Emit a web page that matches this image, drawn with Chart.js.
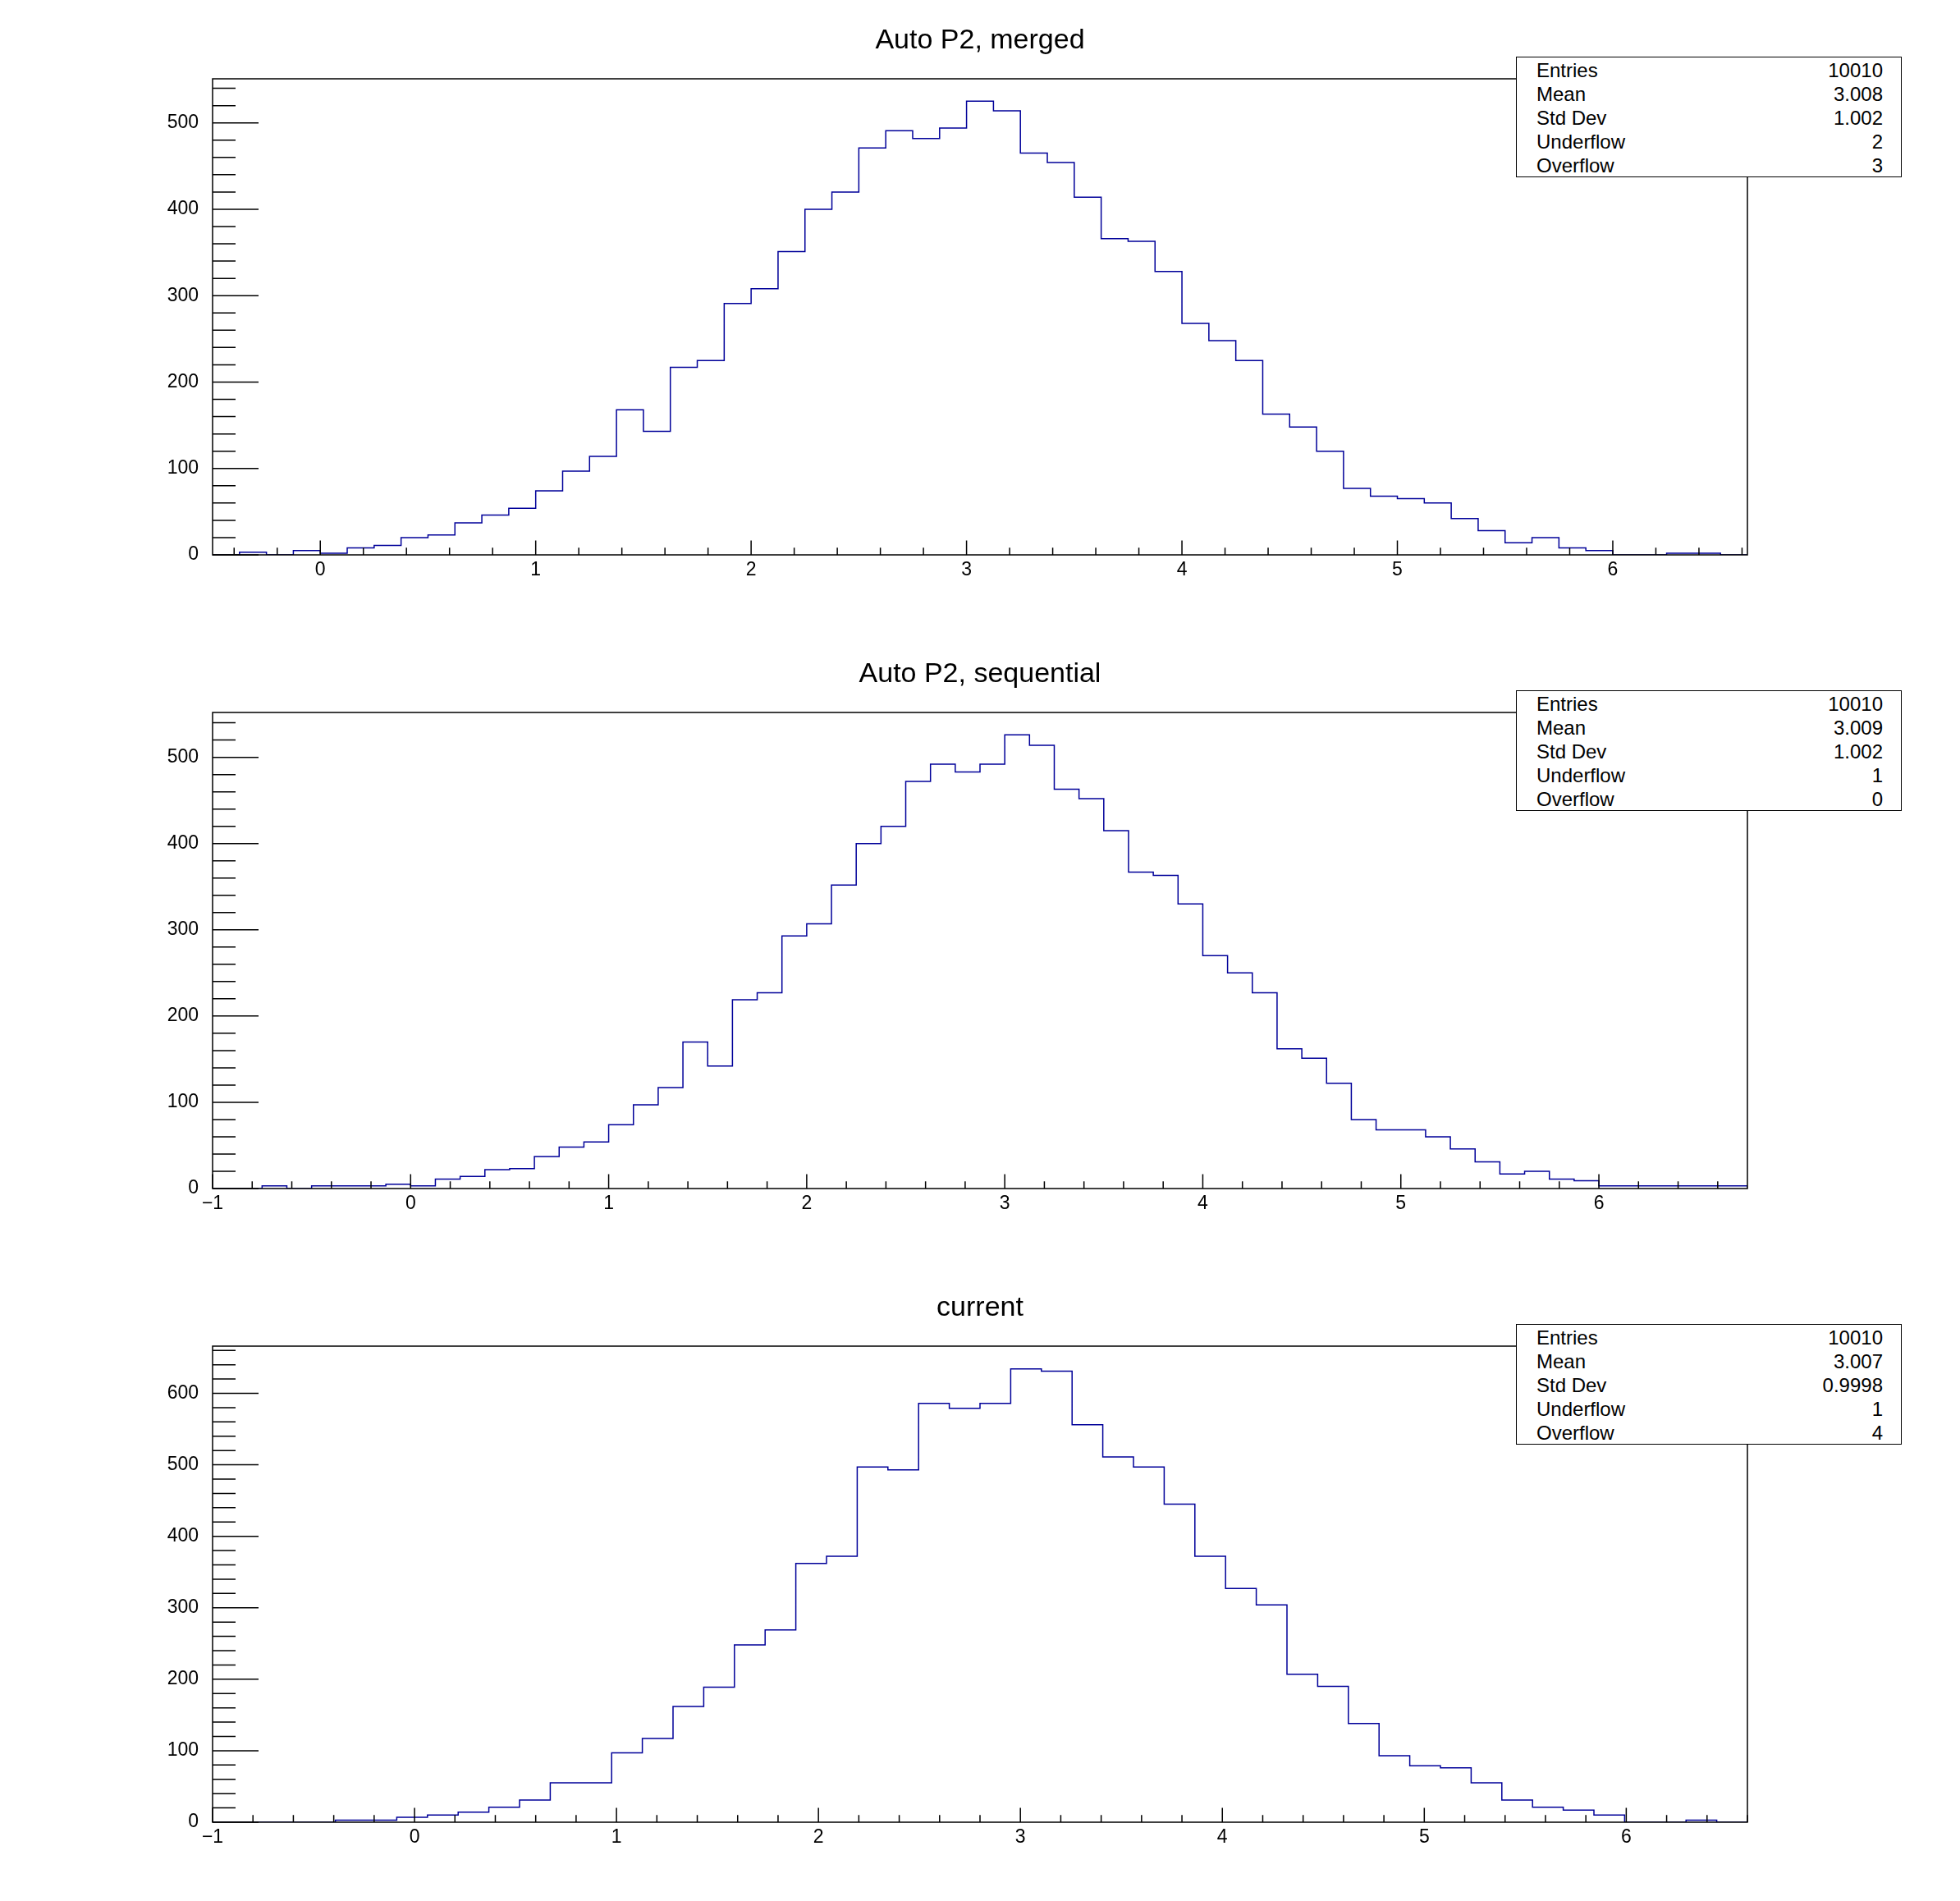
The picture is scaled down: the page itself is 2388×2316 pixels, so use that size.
<!DOCTYPE html>
<html>
<head>
<meta charset="utf-8">
<script src="https://cdn.jsdelivr.net/npm/chart.js@4.4.1/dist/chart.umd.min.js"></script>
<style>
  html, body { margin: 0; padding: 0; background: #fff; width: 2388px; height: 2316px; overflow: hidden; }
  .pad { position: absolute; left: 0; width: 2388px; height: 772px; }
  .pad canvas { position: absolute; left: 0; top: 0; }
  .title { position: absolute; left: 0; width: 2388px; top: 30px; text-align: center;
           font: 34px/34px "Liberation Sans", Arial, sans-serif; color: #000; }
  .stats { position: absolute; left: 1847px; top: 69px; width: 468px; height: 145px;
           border: 1.5px solid #000; background: #fff;
           font: 24px/24px "Liberation Sans", Arial, sans-serif; color: #000; }
  .stats .row { position: absolute; left: 24px; right: 22px; height: 24px; }
  .stats .val { position: absolute; right: 0; top: 0; }
</style>
</head>
<body>
<div id="page"></div>
<script>
// ---- data ----
const titles = ['Auto P2, merged', 'Auto P2, sequential', 'current'];

// panel 1: 57 bins of 0.125 from -0.5
const mergedRange = [-0.5, 6.625];
const mergedBinWidth = 0.125;
const mergedCounts = [
  0, 3, 0, 5, 2, 8, 11, 20, 23, 37, 46, 54,
  74, 97, 114, 168, 143, 217, 225, 291,
  308, 351, 400, 420, 471, 491, 482, 494,
  525, 514, 465, 454, 414, 366, 363, 328,
  268, 248, 225, 163, 148, 120, 77, 68,
  65, 60, 42, 28, 14, 20, 8, 5,
  0, 0, 2, 2, 0
];

// panel 2: 62 bins of 0.125 from -1
const seqRange = [-1, 6.75];
const seqBinWidth = 0.125;
const seqCounts = [
  0, 0, 3, 0, 3, 3, 3, 5,
  3, 11, 14, 22, 23, 37, 48, 54,
  74, 97, 117, 170, 142, 219, 227, 293,
  307, 352, 400, 420, 472, 492, 483, 492,
  526, 514, 463, 452, 415, 367, 363, 330,
  270, 250, 227, 162, 151, 122, 80, 68,
  68, 60, 46, 31, 17, 20, 11, 9,
  3, 3, 3, 3, 3, 3
];

// panel 3: 50 bins of 0.152 from -1
const curRange = [-1, 6.6];
const curBinWidth = 0.152;
const curCounts = [
  0, 0, 0, 0, 3, 3, 7, 10, 14, 21,
  31, 55, 55, 97, 117, 162, 189, 248, 269, 362,
  372, 497, 493, 586, 579, 586, 634, 631, 556, 511,
  497, 445, 372, 327, 304, 207, 190, 138, 93, 79,
  76, 55, 31, 21, 17, 10, 0, 0, 3, 0
];

const yMaxes = [551, 552, 666];

const statLabels = ['Entries', 'Mean', 'Std Dev', 'Underflow', 'Overflow'];
const mergedStats = ['10010', '3.008', '1.002', '2', '3'];
const seqStats = ['10010', '3.009', '1.002', '1', '0'];
const curStats = ['10010', '3.007', '0.9998', '1', '4'];

const FONT = '"Liberation Sans", Arial, sans-serif';
const LINE_COLOR = '#000099';

// ROOT-like frame with ticks pointing into the plot
const rootFrame = {
    id: 'rootFrame',
    afterDraw(chart, args, opts) {
        const ctx = chart.ctx;
        const a = chart.chartArea;
        const x = chart.scales.x, y = chart.scales.y;
        ctx.save();
        ctx.strokeStyle = '#000';
        ctx.lineWidth = 1.5;
        ctx.strokeRect(a.left, a.top, a.right - a.left, a.bottom - a.top);

        ctx.beginPath();
        // x axis
        x.ticks.forEach(t => {
            const px = x.getPixelForValue(t.value);
            ctx.moveTo(px, a.bottom);
            ctx.lineTo(px, a.bottom - 17.4);
        });
        for (let k = Math.ceil(x.min / opts.xMinor - 1e-9); k * opts.xMinor <= x.max + 1e-9; k++) {
            const px = x.getPixelForValue(k * opts.xMinor);
            ctx.moveTo(px, a.bottom);
            ctx.lineTo(px, a.bottom - 8.7);
        }
        // y axis
        y.ticks.forEach(t => {
            const py = y.getPixelForValue(t.value);
            ctx.moveTo(a.left, py);
            ctx.lineTo(a.left + 56, py);
        });
        for (let k = 0; k * opts.yMinor <= y.max + 1e-9; k++) {
            const py = y.getPixelForValue(k * opts.yMinor);
            ctx.moveTo(a.left, py);
            ctx.lineTo(a.left + 28, py);
        }
        ctx.stroke();
        ctx.restore();
    }
};

function histPoints(range, width, counts) {
    const pts = [{ x: range[0], y: 0 }];
    counts.forEach((c, i) => pts.push({ x: range[0] + i * width, y: c }));
    pts.push({ x: range[1], y: 0 });
    return pts;
}

function minusLabel(value) {
    return value < 0 ? '\u2212' + Math.abs(value) : String(value);
}

function makePad(idx, range, width, counts, stats) {
    const pad = document.createElement('div');
    pad.className = 'pad';
    pad.style.top = (idx * 772) + 'px';

    const canvas = document.createElement('canvas');
    canvas.width = 2388;
    canvas.height = 772;
    pad.appendChild(canvas);

    const title = document.createElement('div');
    title.className = 'title';
    title.textContent = titles[idx];
    pad.appendChild(title);

    const box = document.createElement('div');
    box.className = 'stats';
    statLabels.forEach((lab, i) => {
        const row = document.createElement('div');
        row.className = 'row';
        row.style.top = (4 + i * 29) + 'px';
        row.innerHTML = '<span>' + lab + '</span><span class="val">' + stats[i] + '</span>';
        box.appendChild(row);
    });
    pad.appendChild(box);
    document.getElementById('page').appendChild(pad);

    new Chart(canvas.getContext('2d'), {
        type: 'line',
        data: {
            datasets: [{
                data: histPoints(range, width, counts),
                borderColor: LINE_COLOR,
                borderWidth: 1.5,
                pointRadius: 0,
                fill: false,
                stepped: 'before'
            }]
        },
        options: {
            responsive: false,
            devicePixelRatio: 1,
            animation: false,
            // chart area: x 259..2129, y 96..676
            layout: { padding: { left: 159, right: 259, top: 96, bottom: 46 } },
            plugins: {
                legend: { display: false },
                tooltip: { enabled: false },
                rootFrame: { xMinor: 0.2, yMinor: 20 }
            },
            scales: {
                x: {
                    type: 'linear',
                    min: range[0],
                    max: range[1],
                    grid: { display: false },
                    border: { display: false },
                    ticks: {
                        stepSize: 1,
                        includeBounds: false,
                        autoSkip: false,
                        maxRotation: 0,
                        padding: -3,
                        color: '#000',
                        font: { family: FONT, size: 23 },
                        callback: minusLabel
                    },
                    afterFit: s => { s.height = 50; }
                },
                y: {
                    type: 'linear',
                    min: 0,
                    max: yMaxes[idx],
                    grid: { display: false },
                    border: { display: false },
                    ticks: {
                        stepSize: 100,
                        includeBounds: false,
                        padding: 9,
                        color: '#000',
                        font: { family: FONT, size: 23 }
                    },
                    afterFit: s => { s.width = 100; }
                }
            }
        },
        plugins: [rootFrame]
    });
}

makePad(0, mergedRange, mergedBinWidth, mergedCounts, mergedStats);
makePad(1, seqRange, seqBinWidth, seqCounts, seqStats);
makePad(2, curRange, curBinWidth, curCounts, curStats);
</script>
</body>
</html>
